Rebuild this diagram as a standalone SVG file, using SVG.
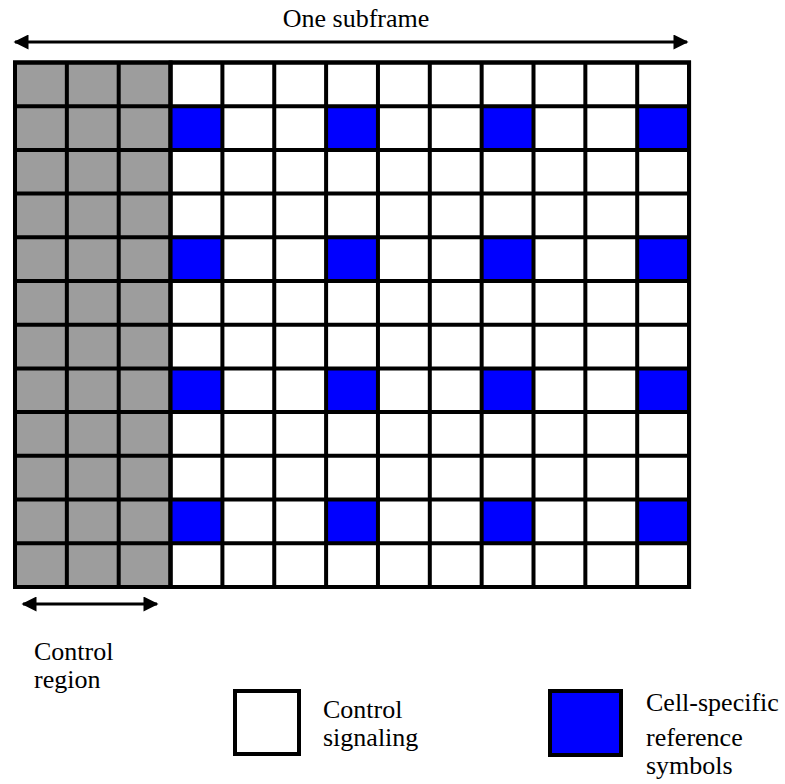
<svg xmlns="http://www.w3.org/2000/svg" width="785" height="784" viewBox="0 0 785 784">
<style>
  text { font-family: "Liberation Serif", "Times New Roman", serif; font-size: 26px; fill: #000; }
  .c { stroke: #000; stroke-width: 4; }
  .g { fill: #9d9d9d; }
  .w { fill: #fff; }
  .b { fill: #0000ff; }
  .arr { stroke: #000; stroke-width: 3; fill: none; }
</style>
<defs>
  <marker id="ah" viewBox="0 0 10 10" refX="9" refY="5" markerWidth="7" markerHeight="5" orient="auto-start-reverse" markerUnits="strokeWidth">
    <path d="M0,0 L10,5 L0,10 z" fill="#000"/>
  </marker>
</defs>
<rect width="785" height="784" fill="#fff"/>
<g id="subframe-label"><text x="356" y="27" text-anchor="middle">One subframe</text></g>
<g id="cells">
<rect class="c g" x="15" y="62.5" width="155.6" height="524.5"/>
<rect class="c w" x="170.6" y="62.5" width="518.5" height="524.5"/>
<rect class="b" x="170.6" y="106.2" width="51.85" height="43.7"/>
<rect class="b" x="326.2" y="106.2" width="51.85" height="43.7"/>
<rect class="b" x="481.7" y="106.2" width="51.85" height="43.7"/>
<rect class="b" x="637.3" y="106.2" width="51.85" height="43.7"/>
<rect class="b" x="170.6" y="237.4" width="51.85" height="43.7"/>
<rect class="b" x="326.2" y="237.4" width="51.85" height="43.7"/>
<rect class="b" x="481.7" y="237.4" width="51.85" height="43.7"/>
<rect class="b" x="637.3" y="237.4" width="51.85" height="43.7"/>
<rect class="b" x="170.6" y="368.6" width="51.85" height="43.7"/>
<rect class="b" x="326.2" y="368.6" width="51.85" height="43.7"/>
<rect class="b" x="481.7" y="368.6" width="51.85" height="43.7"/>
<rect class="b" x="637.3" y="368.6" width="51.85" height="43.7"/>
<rect class="b" x="170.6" y="499.8" width="51.85" height="43.7"/>
<rect class="b" x="326.2" y="499.8" width="51.85" height="43.7"/>
<rect class="b" x="481.7" y="499.8" width="51.85" height="43.7"/>
<rect class="b" x="637.3" y="499.8" width="51.85" height="43.7"/>
<path class="c" fill="none" d="M66.85,62.5V587 M118.7,62.5V587 M170.55,62.5V587 M222.4,62.5V587 M274.25,62.5V587 M326.1,62.5V587 M377.95,62.5V587 M429.8,62.5V587 M481.65,62.5V587 M533.5,62.5V587 M585.35,62.5V587 M637.2,62.5V587
M15,106.2H689 M15,149.9H689 M15,193.6H689 M15,237.3H689 M15,281H689 M15,324.7H689 M15,368.4H689 M15,412.1H689 M15,455.8H689 M15,499.5H689 M15,543.2H689
M15,62.5H689V587H15Z"/>
</g>
<g id="connectors">
  <line class="arr" x1="15" y1="42" x2="687" y2="42" marker-start="url(#ah)" marker-end="url(#ah)"/>
  <line class="arr" x1="23" y1="604" x2="157" y2="604" marker-start="url(#ah)" marker-end="url(#ah)"/>
</g>
<g id="control-region-label">
  <text x="34" y="660">Control</text>
  <text x="34" y="688">region</text>
</g>
<g id="legend-control">
  <rect class="c w" x="235" y="691" width="64" height="63"/>
  <text x="323" y="718">Control</text>
  <text x="323" y="746">signaling</text>
</g>
<g id="legend-crs">
  <rect class="c b" x="550" y="691" width="71" height="64"/>
  <text x="646" y="711">Cell-specific</text>
  <text x="646" y="746">reference</text>
  <text x="646" y="774">symbols</text>
</g>
</svg>
